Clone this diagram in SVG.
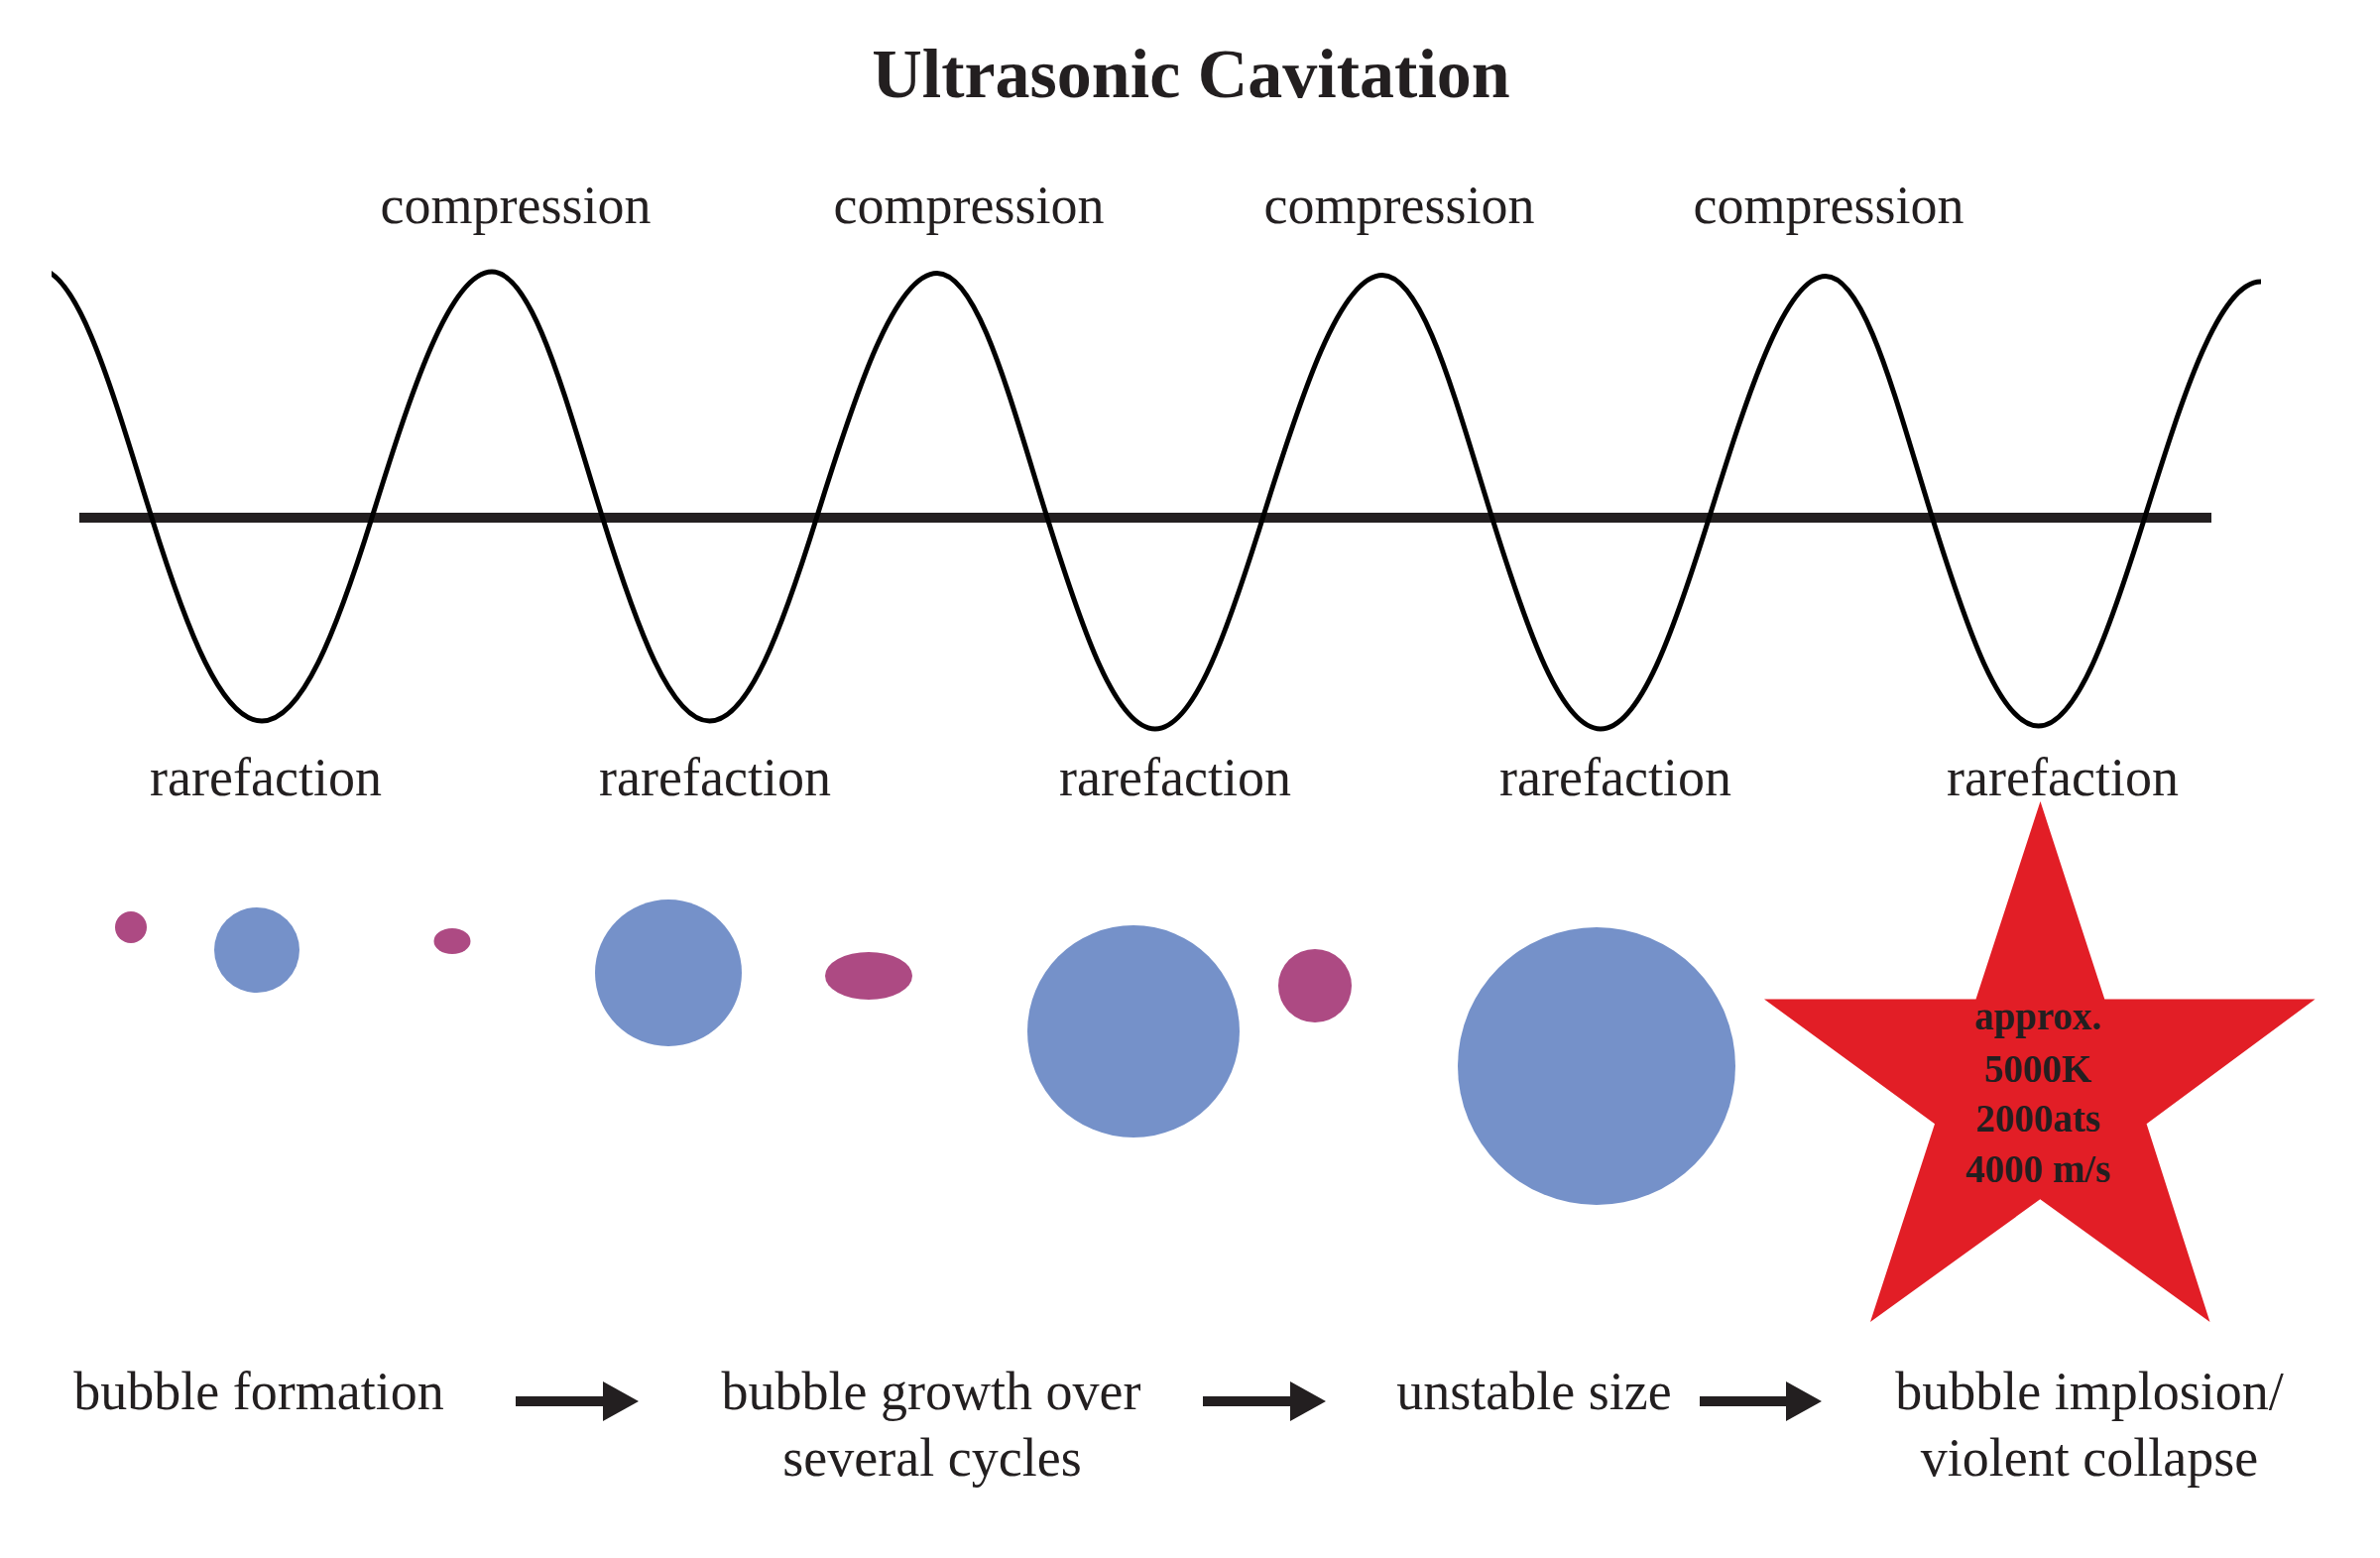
<svg xmlns="http://www.w3.org/2000/svg" width="2400" height="1571" viewBox="0 0 2400 1571">
  <defs>
    <style>
      .t { font-family: "Liberation Serif", "Times New Roman", serif; fill: #231f20; }
      .title { font-size: 70px; font-weight: bold; text-anchor: middle; }
      .lbl { font-size: 54px; text-anchor: middle; }
      .star-t { font-size: 39px; font-weight: bold; text-anchor: middle; }
      .blue { fill: #7591c9; }
      .mag { fill: #ad4a83; }
      .conn { stroke: #231f20; stroke-width: 10; fill: none; }
    </style>
    <marker id="head" markerUnits="userSpaceOnUse" markerWidth="36" markerHeight="40" refX="2" refY="20" orient="auto">
      <path d="M0,0 L36,20 L0,40 Z" fill="#231f20"/>
    </marker>
    <clipPath id="waveclip">
      <rect x="52" y="0" width="2348" height="1571"/>
    </clipPath>
  </defs>
  <rect width="2400" height="1571" fill="#ffffff"/>

  <g id="title">
    <text class="t title" x="1201" y="98">Ultrasonic Cavitation</text>
  </g>

  <g id="wave">
    <line x1="80" y1="522" x2="2230" y2="522" stroke="#231f20" stroke-width="10"/>
    <path fill="none" stroke="#000000" stroke-width="5" clip-path="url(#waveclip)" d="M38,271 C79.6,271 115.5,402 153,522 C189.2,637.8 223.8,727 264,727 C304.2,727 338.8,637.8 375,522 C413.5,398.9 453.3,274 496,274 C537.5,274 570.2,402.4 607.6,522 C642.8,634.6 676.5,727 715.5,727 C754.6,727 788.3,634.7 823.5,522 C862.1,398.3 902.1,275.5 945,275.5 C986.3,275.5 1018.8,403 1056,522 C1091.5,635.5 1125.4,735 1164.8,735 C1204.1,735 1238.1,635.4 1273.5,522 C1311.8,399.4 1351.5,277.5 1394,277.5 C1435.1,277.5 1467.6,403.5 1504.6,522 C1540.3,636.2 1574.4,735 1614,735 C1653.6,735 1687.8,636.3 1723.5,522 C1760.8,402.5 1799.6,278.5 1841,278.5 C1881,278.5 1912.5,406.7 1948.5,522 C1983.4,633.8 2016.8,732 2055.6,732 C2094.4,732 2127.8,633.8 2162.7,522 C2201,399.6 2237.5,284 2280,284"/>
  </g>

  <g id="compression-labels">
    <text class="t lbl" x="520" y="225">compression</text>
    <text class="t lbl" x="977" y="225">compression</text>
    <text class="t lbl" x="1411" y="225">compression</text>
    <text class="t lbl" x="1844" y="225">compression</text>
  </g>

  <g id="rarefaction-labels">
    <text class="t lbl" x="268" y="802">rarefaction</text>
    <text class="t lbl" x="721" y="802">rarefaction</text>
    <text class="t lbl" x="1185" y="802">rarefaction</text>
    <text class="t lbl" x="1629" y="802">rarefaction</text>
    <text class="t lbl" x="2080" y="802">rarefaction</text>
  </g>

  <g id="bubbles">
    <circle class="mag" cx="132" cy="935" r="16"/>
    <circle class="blue" cx="259" cy="958" r="43"/>
    <ellipse class="mag" cx="456" cy="949" rx="18.5" ry="13"/>
    <circle class="blue" cx="674" cy="981" r="74"/>
    <ellipse class="mag" cx="876" cy="984" rx="44" ry="24"/>
    <circle class="blue" cx="1143" cy="1040" r="107"/>
    <circle class="mag" cx="1326" cy="994" r="37"/>
    <circle class="blue" cx="1610" cy="1075" r="140"/>
  </g>

  <g id="star">
    <polygon fill="#e21e26" points="2057.5,808 2122.3,1007.5 2334.6,1007.5 2164.6,1133.3 2228.5,1333 2057.3,1209.3 1886,1333 1951,1133.3 1779,1007.5 1992.5,1007.5"/>
    <text class="t star-t" x="2055" y="1038">approx.</text>
    <text class="t star-t" x="2055" y="1091">5000K</text>
    <text class="t star-t" x="2055" y="1141">2000ats</text>
    <text class="t star-t" x="2055" y="1192">4000 m/s</text>
  </g>

  <g id="step-formation">
    <text class="t lbl" x="261" y="1421">bubble formation</text>
  </g>
  <g id="step-growth">
    <text class="t lbl" x="939" y="1421">bubble growth over</text>
    <text class="t lbl" x="940" y="1488">several cycles</text>
  </g>
  <g id="step-unstable">
    <text class="t lbl" x="1547" y="1421">unstable size</text>
  </g>
  <g id="step-implosion">
    <text class="t lbl" x="2107" y="1421">bubble implosion/</text>
    <text class="t lbl" x="2107" y="1488">violent collapse</text>
  </g>

  <g id="connectors">
    <line class="conn" x1="520" y1="1413" x2="610" y2="1413" marker-end="url(#head)"/>
    <line class="conn" x1="1213" y1="1413" x2="1303" y2="1413" marker-end="url(#head)"/>
    <line class="conn" x1="1714" y1="1413" x2="1803" y2="1413" marker-end="url(#head)"/>
  </g>
</svg>
